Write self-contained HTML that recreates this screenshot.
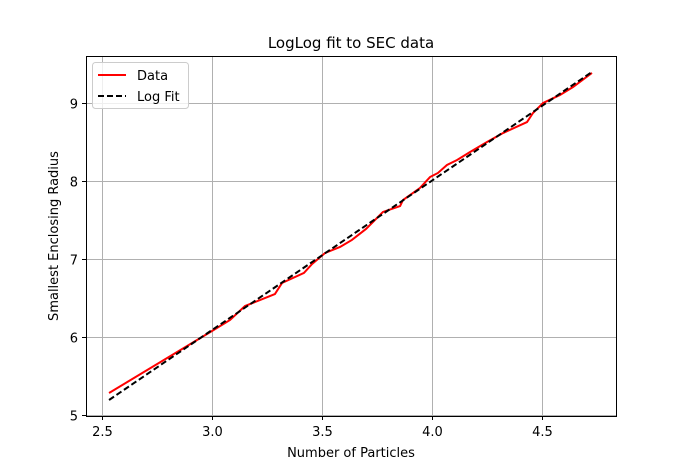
<!DOCTYPE html>
<html><head><meta charset="utf-8"><style>
body{margin:0;background:#fff;font-family:"DejaVu Sans","Liberation Sans",sans-serif}
</style></head><body>
<svg id="chart" width="684" height="468" xmlns="http://www.w3.org/2000/svg" font-family="DejaVu Sans, Liberation Sans, sans-serif">
<rect width="684" height="468" fill="#fff"/>
<g id="grid"></g>
<g id="series"></g>
<rect x="86.5" y="56.5" width="530" height="360" fill="none" stroke="#000" stroke-width="1"/>
<g id="ticks"></g>
<text x="351" y="48" text-anchor="middle" font-size="15">LogLog fit to SEC data</text>
<text x="351" y="457" text-anchor="middle" font-size="13">Number of Particles</text>
<text transform="translate(58,236) rotate(-90)" text-anchor="middle" font-size="13">Smallest Enclosing Radius</text>
<g>
<rect x="92.5" y="62.5" width="96" height="46" rx="3" fill="#fff" fill-opacity="0.8" stroke="#ccc"/>
<line x1="98" y1="75" x2="126" y2="75" stroke="red" stroke-width="2"/>
<text x="137" y="80" font-size="13">Data</text>
<line x1="98" y1="96" x2="126" y2="96" stroke="#000" stroke-width="2" stroke-dasharray="6,3"/>
<text x="137" y="101" font-size="13">Log Fit</text>
</g>
</svg>
<script>
const xVals=[2.532,3.0,3.082,3.15,3.286,3.318,3.418,3.455,3.514,3.582,3.636,3.70,3.777,3.855,3.868,3.945,3.991,4.027,4.068,4.114,4.173,4.25,4.323,4.432,4.459,4.505,4.582,4.641,4.727];
const yVals=[5.282,6.077,6.218,6.397,6.551,6.692,6.821,6.936,7.077,7.154,7.244,7.385,7.603,7.679,7.756,7.91,8.051,8.103,8.205,8.269,8.372,8.5,8.615,8.756,8.872,9.0,9.103,9.205,9.385];
const fitSlope=[1.916];
const fitIntercept=[0.341];
const xTicks=[2.5,3.0,3.5,4.0,4.5];
const xTickLabels=["2.5","3.0","3.5","4.0","4.5"];
const yTicks=[5,6,7,8,9];
const yTickLabels=["5","6","7","8","9"];
const sx=v=>102+(v-2.5)*220;
const sy=v=>415-(v-5)*78;
const NS="http://www.w3.org/2000/svg";
const grid=document.getElementById('grid'),ticks=document.getElementById('ticks'),ser=document.getElementById('series');
function mk(tag,attrs,parent){const e=document.createElementNS(NS,tag);for(const k in attrs)e.setAttribute(k,attrs[k]);parent.appendChild(e);return e;}
xTicks.forEach((t,i)=>{const x=Math.round(sx(t))+0.5;
const g=mk('line',{x1:x,x2:x,y1:57,y2:416,stroke:'#b0b0b0','stroke-width':1},grid);


mk('line',{x1:x,x2:x,y1:416,y2:420,stroke:'#000'},ticks);
const tx=mk('text',{x:x,y:436,'text-anchor':'middle','font-size':13},ticks);tx.textContent=xTickLabels[i];

});
yTicks.forEach((t,i)=>{const y=Math.round(sy(t))+0.5;
const g=mk('line',{x1:86,x2:616,y1:y,y2:y,stroke:'#b0b0b0','stroke-width':1},grid);


mk('line',{x1:82,x2:86,y1:y,y2:y,stroke:'#000'},ticks);
const tx=mk('text',{x:78,y:y+5,'text-anchor':'end','font-size':13},ticks);tx.textContent=yTickLabels[i];

});
const d=xVals.map((x,i)=>(i?'L':'M')+sx(x)+','+sy(yVals[i])).join(' ');
const p=mk('path',{d:d,fill:'none',stroke:'red','stroke-width':2},ser);


const x0=xVals[0],x1=xVals[xVals.length-1];
const f=v=>fitSlope[0]*v+fitIntercept[0];
const fl=mk('line',{x1:sx(x0),y1:sy(f(x0)),x2:sx(x1),y2:sy(f(x1)),stroke:'#000','stroke-width':2,'stroke-dasharray':'6,3'},ser);


</script>
</body></html>
